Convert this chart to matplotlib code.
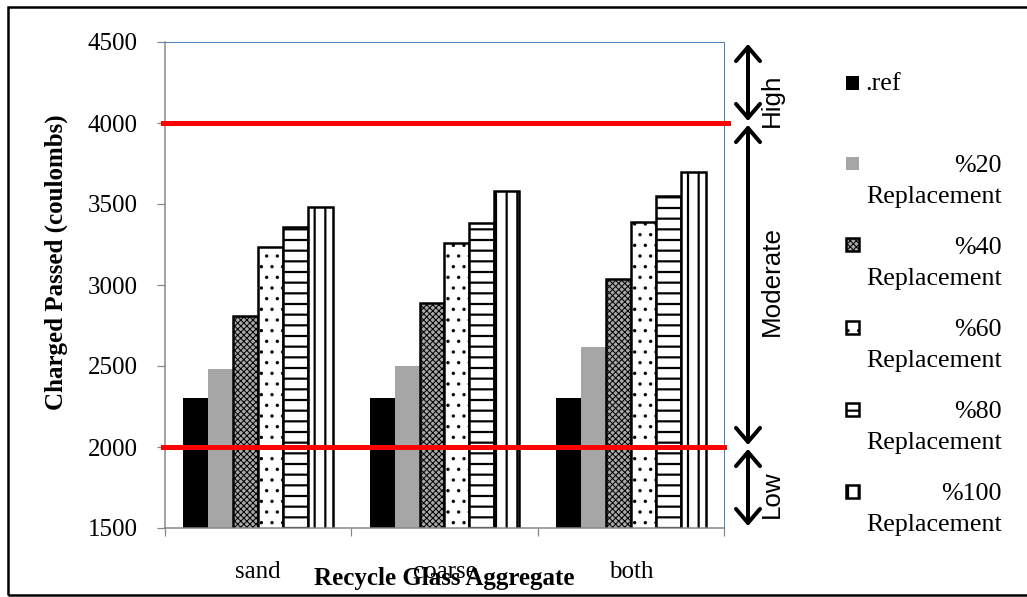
import numpy as np
import matplotlib
matplotlib.use("Agg")
import matplotlib.pyplot as plt
from matplotlib.patches import Rectangle
import matplotlib.transforms as mtransforms

# ---- data ----
categories = ["sand", "coarse", "both"]
series_names = [".ref", "%20\nReplacement", "%40\nReplacement",
                "%60\nReplacement", "%80\nReplacement", "%100\nReplacement"]
ref_vals = [2300, 2300, 2300]
rep20_vals = [2480, 2500, 2620]
rep40_vals = [2810, 2890, 3040]
rep60_vals = [3235, 3260, 3390]
rep80_vals = [3355, 3385, 3550]
rep100_vals = [3480, 3580, 3695]
yticks = [1500, 2000, 2500, 3000, 3500, 4000, 4500]
limit_lines = [4000, 2000]
ranges = [("High", 4000, 4500), ("Moderate", 2000, 4000), ("Low", 1500, 2000)]

series = [ref_vals, rep20_vals, rep40_vals, rep60_vals, rep80_vals, rep100_vals]

# ---- styling ----
W, H, DPI = 1027, 597, 128


def pt(px):
    return px * 72.0 / DPI


styles = [
    dict(facecolor="black", edgecolor="none", hatch=None, lw=0),
    dict(facecolor="#a6a6a6", edgecolor="none", hatch=None, lw=0),
    dict(facecolor="#a8a8a8", edgecolor="black", hatch="xxxxxxx", lw=pt(2.5), hlw=pt(1.0)),
    dict(facecolor="white", edgecolor="black", hatch="..", lw=pt(2.5), hlw=pt(1.2)),
    dict(facecolor="white", edgecolor="black", hatch="--", lw=pt(2.5), hlw=pt(2.2)),
    dict(facecolor="white", edgecolor="black", hatch="||", lw=pt(2.5), hlw=pt(2.2)),
]

serif = "Liberation Serif"
sans = "Liberation Sans"
fs = pt(25)
fs_leg = pt(26)

fig = plt.figure(figsize=(W / DPI, H / DPI), dpi=DPI)
ax = fig.add_axes([165 / W, 1 - 528 / H, (724 - 165) / W, (528 - 42) / H])

x = np.arange(len(categories))
width = 0.134
for i, (vals, st) in enumerate(zip(series, styles)):
    ctx = {"hatch.linewidth": st.get("hlw", 1.0)}
    with plt.rc_context(ctx):
        bars = ax.bar(x + (i - 2.5) * width, vals, width,
                      color=st["facecolor"], edgecolor=st["edgecolor"],
                      linewidth=st["lw"], hatch=st["hatch"], zorder=2)
    for b in bars:
        if hasattr(b, "set_hatch_linewidth") and st["hatch"]:
            b.set_hatch_linewidth(st["hlw"])

# limit lines
ax.axhline(limit_lines[0], xmin=-0.004, xmax=1.007, color="#ff0000",
           lw=pt(5), zorder=4, clip_on=False)
ax.axhline(limit_lines[1], xmin=-0.004, xmax=1.0, color="#ff0000",
           lw=pt(5), zorder=4, clip_on=False)

ax.set_xlim(-0.5, 2.5)
ax.set_ylim(yticks[0], yticks[-1])
ax.set_yticks(yticks)
ax.set_yticklabels([str(v) for v in yticks], fontfamily=serif, fontsize=fs)
ax.tick_params(axis="y", direction="out", length=pt(8), width=pt(1.2),
               color="#868686", pad=pt(19))

ax.set_xticks([-0.5, 0.5, 1.5, 2.5])
ax.set_xticklabels([])
ax.set_xticks(x, minor=True)
ax.set_xticklabels(categories, minor=True, fontfamily=serif, fontsize=fs)
ax.tick_params(axis="x", which="major", direction="out", length=pt(8),
               width=pt(1.2), color="#868686")
ax.tick_params(axis="x", which="minor", length=0, pad=pt(33))

for side in ("left", "bottom"):
    ax.spines[side].set_color("#868686")
    ax.spines[side].set_linewidth(pt(1.5))
for side in ("top", "right"):
    ax.spines[side].set_color("#4f81bd")
    ax.spines[side].set_linewidth(pt(1.0))

# axis titles
fig.text(56 / W, 1 - 262 / H, "Charged Passed (coulombs)", rotation=90,
         ha="center", va="center", fontfamily=serif, fontweight="bold",
         fontsize=fs)
fig.text(444 / W, 1 - 579 / H, "Recycle Glass Aggregate", ha="center",
         va="center", fontfamily=serif, fontweight="bold", fontsize=fs)

# range arrows
trans = mtransforms.blended_transform_factory(ax.transAxes, ax.transData)
arrow_x = (748 - 165) / 559
text_x = (772 - 165) / 559
label_y = {"High": 4140, "Moderate": 3025, "Low": 1710}
for name, lo, hi in ranges:
    ax.annotate("", xy=(arrow_x, hi), xytext=(arrow_x, lo),
                xycoords=trans, textcoords=trans,
                arrowprops=dict(arrowstyle="<->,head_length=0.7,head_width=0.6",
                                lw=pt(4), color="black", mutation_scale=pt(20),
                                shrinkA=pt(2), shrinkB=pt(2)),
                annotation_clip=False)
    ax.text(text_x, label_y[name], name, transform=trans, rotation=90,
            ha="center", va="center", fontfamily=sans, fontsize=pt(26),
            clip_on=False)

# legend
marker_y = [83, 163, 245, 327, 409, 491]
msize = 13
for i, (name, st) in enumerate(zip(series_names, styles)):
    cy = marker_y[i]
    with plt.rc_context({"hatch.linewidth": st.get("hlw", 1.0)}):
        r = Rectangle(((852 - msize / 2) / W, 1 - (cy + msize / 2) / H),
                      msize / W, msize / H, transform=fig.transFigure,
                      facecolor=st["facecolor"], edgecolor=st["edgecolor"],
                      linewidth=st["lw"] if st["lw"] else 0,
                      hatch=st["hatch"])
    fig.add_artist(r)
    if i == 0:
        fig.text(865 / W, 1 - (cy + 1) / H, name, ha="left", va="center",
                 fontfamily=serif, fontsize=fs_leg)
    else:
        top, bottom = name.split("\n")
        fig.text(1002 / W, 1 - (cy + 3) / H, top, ha="right", va="center",
                 fontfamily=serif, fontsize=fs_leg)
        fig.text(1002 / W, 1 - (cy + 34) / H, bottom, ha="right", va="center",
                 fontfamily=serif, fontsize=fs_leg)

# outer frame
fig.add_artist(Rectangle((8 / W, 1 - 595 / H), 1030 / W, 588 / H,
                         transform=fig.transFigure, fill=False,
                         edgecolor="black", linewidth=pt(2.5)))

fig.savefig("out.png", dpi=DPI)
